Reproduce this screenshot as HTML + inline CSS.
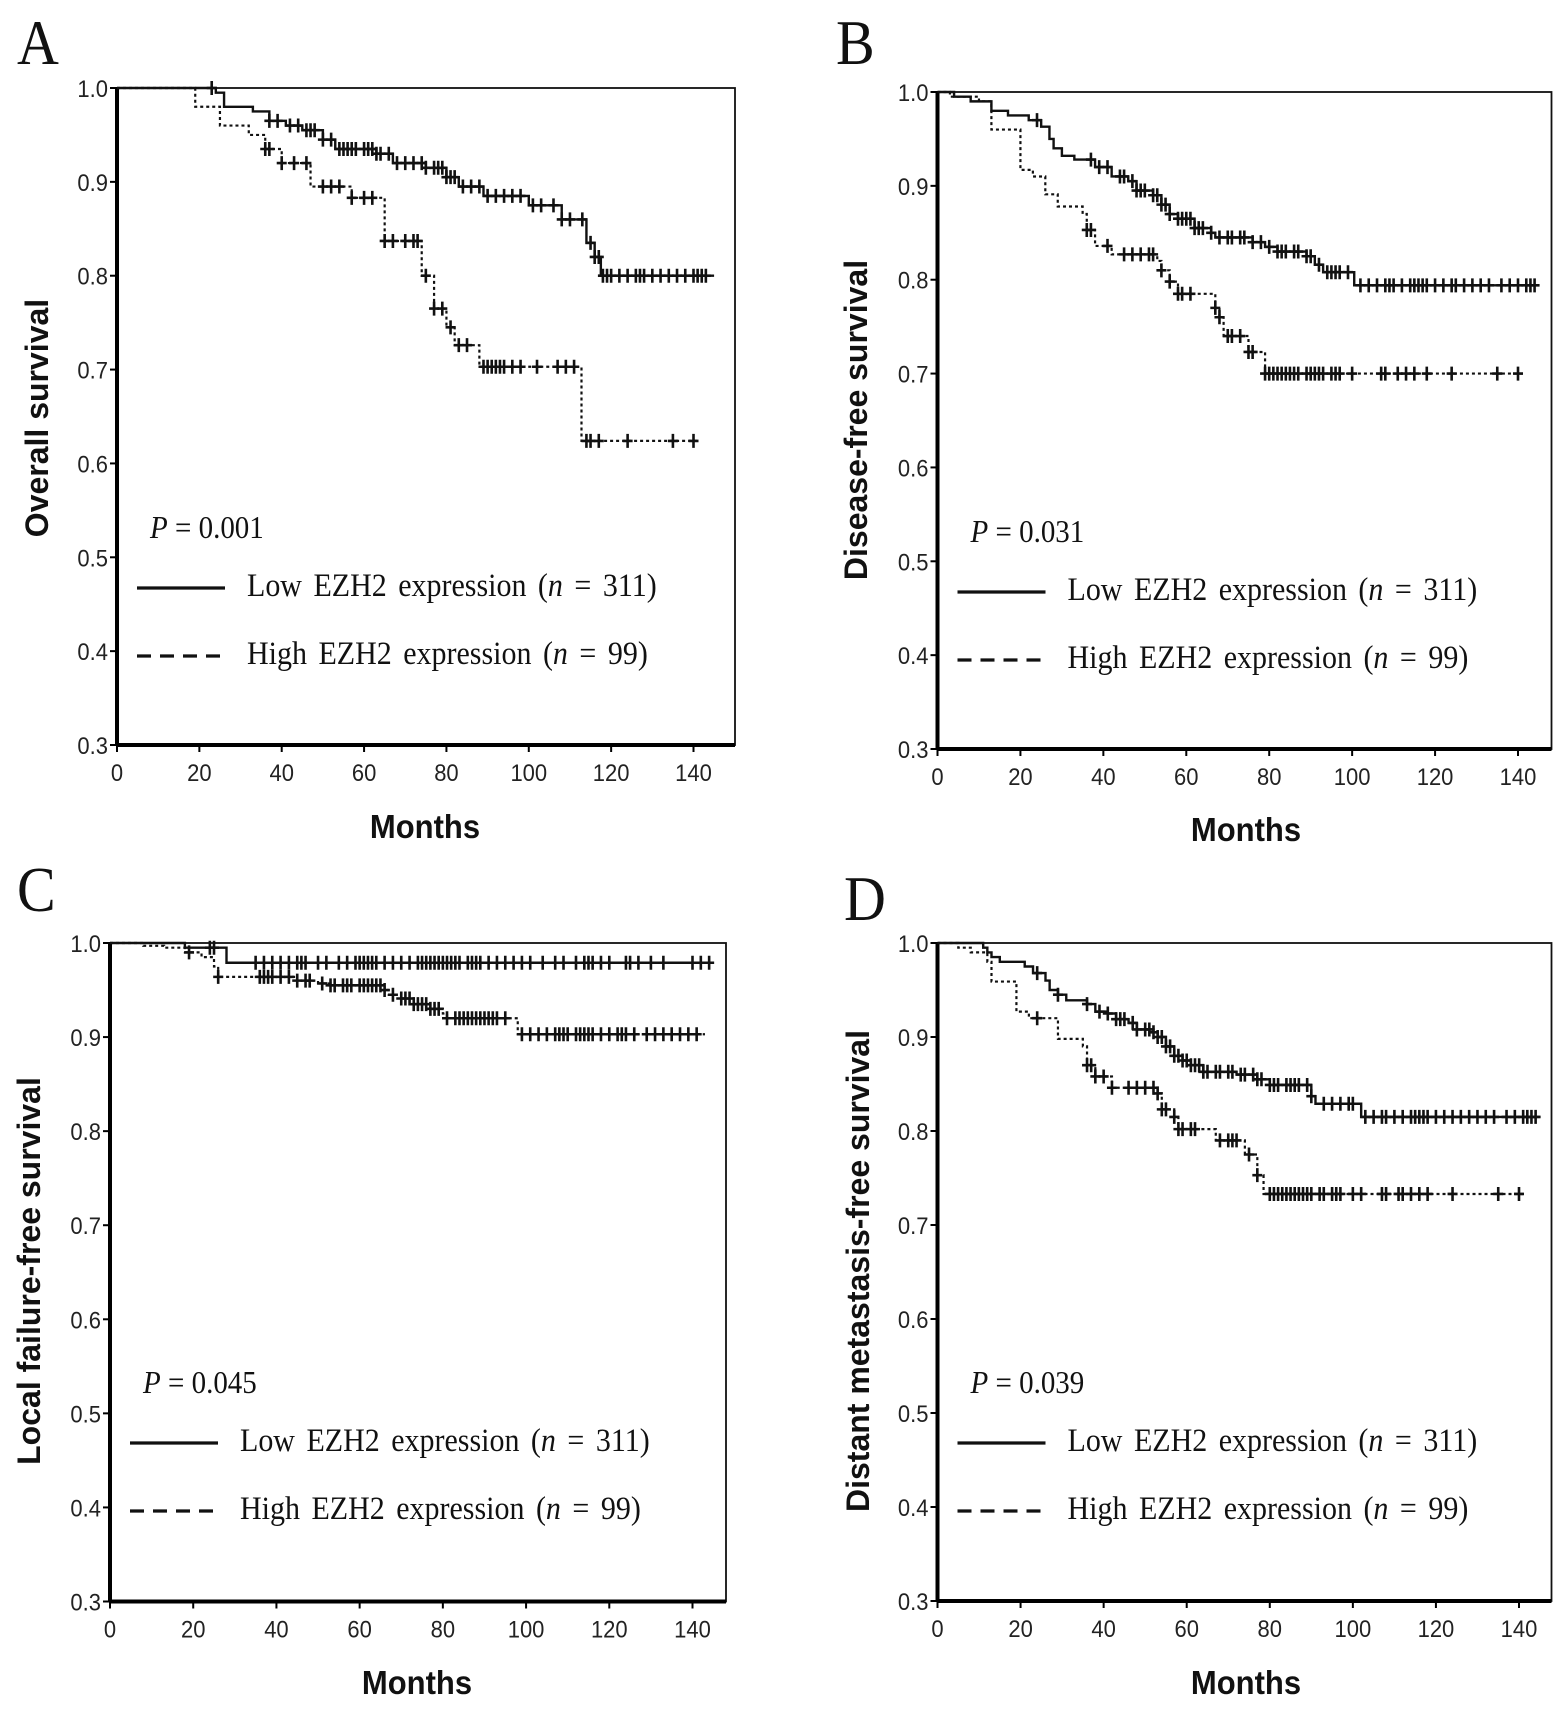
<!DOCTYPE html>
<html><head><meta charset="utf-8">
<style>
html,body{margin:0;padding:0;background:#fff;}
svg{display:block;}
.tick{font-family:"Liberation Sans",sans-serif;font-size:22px;fill:#222;}
.ytitle,.xtitle{font-family:"Liberation Sans",sans-serif;font-weight:bold;fill:#111;}
.serif{font-family:"Liberation Serif",serif;fill:#111;}
</style></head>
<body>
<svg id="fig" width="1568" height="1712" viewBox="0 0 1568 1712" xmlns="http://www.w3.org/2000/svg"></svg>
<script>
// ---- Data (months, survival probability) ----
const xTicks = [0,20,40,60,80,100,120,140];
const yTicks = [0.3,0.4,0.5,0.6,0.7,0.8,0.9,1.0];

const aLowT = [0,24,26,33,37,41,45,50,53,63,67,75,80,83,89,100,108,114,116,117.5];
const aLowV = [1,0.995,0.98,0.975,0.965,0.96,0.955,0.945,0.935,0.93,0.92,0.915,0.905,0.895,0.885,0.875,0.86,0.835,0.82,0.80];
const aLowEnd = 145;
const aLowC = [23,37,39,42,44,46,47,48,50,52,54,55,56,57,58,60,61,62,63,64,66,68,70,72,74,75,77,78,79,80,81,82,84,86,88,90,92,94,96,98,101,103,106,108,110,113,115,116,117,118,119,120,122,124,126,127,128,130,132,134,136,138,140,141,142,143];
const aHighT = [0,19,25,32,36,40,47,57,65,74,77,80,82,88,112.8];
const aHighV = [1,0.98,0.96,0.95,0.935,0.92,0.895,0.883,0.837,0.80,0.765,0.745,0.726,0.703,0.624];
const aHighEnd = 141;
const aHighC = [36,37,40,43,46,50,52,54,57,60,62,65,67,70,72,73,75,77,79,81,83,85,89,90,91,92,93,94,96,98,102,107,109,111,114,115,117,124,135,140];

const bLowT = [0,4,8,13,17,22,25,27,28,30,33,38,42,46,48,52,54,56,58,62,66,67,76,79,82,89,91,93,100.5];
const bLowV = [1,0.995,0.99,0.98,0.975,0.97,0.963,0.95,0.94,0.932,0.928,0.92,0.91,0.905,0.895,0.89,0.88,0.87,0.865,0.855,0.85,0.845,0.84,0.835,0.83,0.825,0.816,0.808,0.794];
const bLowEnd = 145;
const bLowC = [24,37,39,41,44,45,47,48,49,50,52,53,54,55,56,58,59,60,61,62,63,64,66,68,70,71,73,74,76,78,80,82,83,84,86,87,89,90,92,94,95,96,97,99,102,104,106,108,109,110,112,114,115,116,117,118,120,122,124,125,127,129,131,133,136,138,140,142,143,144];
const bHighT = [0,3,10,13,20,23,26,29,35,36,38,42,53,54,56,58,67,68,69,75,79];
const bHighV = [1,0.995,0.99,0.96,0.917,0.91,0.891,0.878,0.87,0.853,0.836,0.827,0.82,0.81,0.798,0.785,0.77,0.76,0.74,0.723,0.70];
const bHighEnd = 141;
const bHighC = [36,37,41,45,47,49,51,52,54,56,58,59,61,67,68,70,71,73,75,76,79,80,81,82,83,84,85,86,87,89,90,91,92,93,95,96,97,100,107,108,111,113,115,118,124,135,140];

const cLowT = [0,18,28];
const cLowV = [1,0.995,0.979];
const cLowEnd = 145;
const cLowC = [24,25,35,37,39,41,43,45,46,47,50,52,55,57,59,60,61,62,63,64,66,68,70,72,74,75,76,77,78,79,80,81,82,83,84,86,87,88,89,91,93,95,97,99,101,104,107,109,112,114,115,116,118,120,124,125,127,130,133,140,142,144];
const cHighT = [0,8,13,18,22,25,26,45,50,53,66,67,70,73,77,80,81,98];
const cHighV = [1,0.997,0.995,0.99,0.985,0.975,0.964,0.96,0.957,0.955,0.95,0.945,0.941,0.935,0.93,0.925,0.92,0.903];
const cHighEnd = 143;
const cHighC = [19,26,36,37,38,39,41,43,45,47,48,51,53,54,56,57,58,60,61,62,63,64,65,66,68,70,71,72,73,74,75,76,77,78,79,81,83,84,85,86,87,88,89,90,91,92,93,95,99,101,103,105,107,108,109,110,112,113,114,115,116,118,120,122,123,124,126,129,131,133,135,137,139,141];

const dLowT = [0,11,12,13,15,21,23,26,27,29,31,36,38,41,43,46,48,52,53,55,57,59,61,64,72,77,80,90,91,102];
const dLowV = [1,0.995,0.99,0.985,0.98,0.975,0.968,0.96,0.95,0.945,0.939,0.935,0.927,0.925,0.919,0.915,0.908,0.905,0.90,0.89,0.88,0.875,0.87,0.863,0.86,0.855,0.849,0.837,0.829,0.815];
const dLowEnd = 145;
const dLowC = [24,29,36,39,41,43,44,45,47,48,50,51,52,53,54,55,56,57,58,59,60,61,62,63,64,65,67,68,70,71,73,74,76,77,78,80,81,82,84,85,86,87,89,90,93,95,97,99,100,103,105,107,108,110,112,114,115,116,117,118,120,122,124,126,128,130,132,134,137,139,141,142,143,144];
const dHighT = [0,5,8,12,13,19,22,29,35,36,38,42,53,54,57,58,67,74,77,78.5];
const dHighV = [1,0.995,0.99,0.98,0.959,0.927,0.92,0.898,0.89,0.87,0.858,0.846,0.84,0.823,0.815,0.802,0.79,0.775,0.753,0.733];
const dHighEnd = 141;
const dHighC = [24,36,37,38,40,42,46,48,50,52,53,54,55,57,58,59,61,62,68,70,71,72,75,77,80,81,82,83,84,85,86,87,88,89,90,92,93,95,96,97,100,102,107,108,111,112,114,116,118,124,135,140];

// ---- Layout ----
const panels = [
  {id:'a', letter:'A', L:117, T:88, R:735, B:745, X140:693.5, ytitle:'Overall survival', ytx:37, yty:418, mx:425, my:838, lx:17, ly:64, p:'0.001',
   lowT:aLowT, lowV:aLowV, lowEnd:aLowEnd, lowC:aLowC, highT:aHighT, highV:aHighV, highEnd:aHighEnd, highC:aHighC},
  {id:'b', letter:'B', L:937.5, T:92, R:1551.5, B:749, X140:1518, ytitle:'Disease-free survival', ytx:856, yty:420, mx:1246, my:841, lx:836, ly:64, p:'0.031',
   lowT:bLowT, lowV:bLowV, lowEnd:bLowEnd, lowC:bLowC, highT:bHighT, highV:bHighV, highEnd:bHighEnd, highC:bHighC},
  {id:'c', letter:'C', L:110, T:943, R:726, B:1601.5, X140:692.5, ytitle:'Local failure-free survival', ytx:29, yty:1271, mx:417, my:1694, lx:17, ly:911, p:'0.045',
   lowT:cLowT, lowV:cLowV, lowEnd:cLowEnd, lowC:cLowC, highT:cHighT, highV:cHighV, highEnd:cHighEnd, highC:cHighC},
  {id:'d', letter:'D', L:937.5, T:943, R:1551.5, B:1601, X140:1519, ytitle:'Distant metastasis-free survival', ytx:858, yty:1271, mx:1246, my:1694, lx:844, ly:920, p:'0.039',
   lowT:dLowT, lowV:dLowV, lowEnd:dLowEnd, lowC:dLowC, highT:dHighT, highV:dHighV, highEnd:dHighEnd, highC:dHighC}
];

const NS = 'http://www.w3.org/2000/svg';
const SY = 1.09;
const svg = document.getElementById('fig');
function mk(tag, attrs, parent, text){
  const e = document.createElementNS(NS, tag);
  for (const k in attrs) e.setAttribute(k, attrs[k]);
  if (text !== undefined) e.textContent = text;
  parent.appendChild(e);
  return e;
}
function tr(x, y){ return 'translate(' + x + ',' + y + ') scale(1,' + SY + ')'; }
function stepVal(T, V, t){ let v = V[0]; for (let i=0;i<T.length;i++){ if (T[i] <= t) v = V[i]; } return v; }

panels.forEach(p => {
  const g = mk('g', {}, svg);
  
  
  const sx = m => p.L + m * (p.X140 - p.L) / 140;
  const sy = v => p.B - (v - 0.3) * (p.B - p.T) / 0.7;

  const letter = mk('text', {x:0, y:0, transform:tr(p.lx, p.ly), class:'serif', 'font-size':'58'}, g, p.letter);
  
  

  const frame = mk('rect', {x:p.L, y:p.T, width:p.R-p.L, height:p.B-p.T, fill:'none', stroke:'#111', 'stroke-width':'1.8'}, g);
  
  
  const yAxis = mk('line', {x1:p.L, y1:p.T, x2:p.L, y2:p.B, stroke:'#000', 'stroke-width':'4'}, g);
  
  
  const xAxis = mk('line', {x1:p.L, y1:p.B, x2:p.R, y2:p.B, stroke:'#000', 'stroke-width':'4'}, g);
  
  

  yTicks.forEach(v => {
    const y = sy(v);
    mk('line', {x1:p.L-7, y1:y, x2:p.L, y2:y, stroke:'#000', 'stroke-width':'2'}, g);
    const t = mk('text', {x:0, y:0, transform:tr(p.L-9, y+9), class:'tick', 'text-anchor':'end'}, g, v.toFixed(1));
    
    
  });
  xTicks.forEach(m => {
    const x = sx(m);
    mk('line', {x1:x, y1:p.B, x2:x, y2:p.B+7, stroke:'#000', 'stroke-width':'2'}, g);
    const t = mk('text', {x:0, y:0, transform:tr(x, p.B+36), class:'tick', 'text-anchor':'middle'}, g, String(m));
    
    
  });

  const yt = mk('text', {x:0, y:0, class:'ytitle', 'font-size':'32', 'text-anchor':'middle', transform:'translate('+(p.ytx+11)+','+p.yty+') rotate(-90)'}, g, p.ytitle);
  
  
  const xt = mk('text', {x:0, y:0, transform:tr(p.mx, p.my), class:'xtitle', 'font-size':'31', 'text-anchor':'middle'}, g, 'Months');
  
  

  function curve(T, V, end, C, dashed, name){
    let d = 'M' + sx(T[0]) + ',' + sy(V[0]);
    for (let i=1;i<T.length;i++){ d += ' H' + sx(T[i]) + ' V' + sy(V[i]); }
    d += ' H' + sx(end);
    const path = mk('path', {d:d, fill:'none', stroke:'#111', 'stroke-width': dashed ? '2.2' : '2.4', 'stroke-dasharray': dashed ? '3 3' : 'none'}, g);
    
    
    C.forEach(c => {
      const x = sx(c), y = sy(stepVal(T, V, c));
      const m = mk('path', {d:'M'+(x-5)+','+y+' H'+(x+5)+' M'+x+','+(y-7)+' V'+(y+7), stroke:'#111', 'stroke-width':'2.6', fill:'none'}, g);
      
      
    });
  }
  curve(p.lowT, p.lowV, p.lowEnd, p.lowC, false, 'low-ezh2');
  curve(p.highT, p.highV, p.highEnd, p.highC, true, 'high-ezh2');

  // legend / p-value
  const pv = mk('text', {x:0, y:0, transform:tr(p.L+33, p.T+450), class:'serif', 'font-size':'29'}, g);
  
  
  mk('tspan', {'font-style':'italic'}, pv, 'P');
  mk('tspan', {}, pv, ' = ' + p.p);

  const l1 = mk('line', {x1:p.L+20, y1:p.T+500, x2:p.L+108, y2:p.T+500, stroke:'#111', 'stroke-width':'3.2'}, g);
  
  
  const t1 = mk('text', {x:0, y:0, transform:tr(p.L+130, p.T+508), class:'serif', 'font-size':'30', 'word-spacing':'4'}, g);
  
  
  mk('tspan', {}, t1, 'Low EZH2 expression (');
  mk('tspan', {'font-style':'italic'}, t1, 'n');
  mk('tspan', {}, t1, ' = 311)');

  const l2 = mk('line', {x1:p.L+20, y1:p.T+568, x2:p.L+108, y2:p.T+568, stroke:'#111', 'stroke-width':'3.2', 'stroke-dasharray':'14 9'}, g);
  
  
  const t2 = mk('text', {x:0, y:0, transform:tr(p.L+130, p.T+576), class:'serif', 'font-size':'30', 'word-spacing':'4'}, g);
  
  
  mk('tspan', {}, t2, 'High EZH2 expression (');
  mk('tspan', {'font-style':'italic'}, t2, 'n');
  mk('tspan', {}, t2, ' = 99)');
});
</script>
</body></html>
